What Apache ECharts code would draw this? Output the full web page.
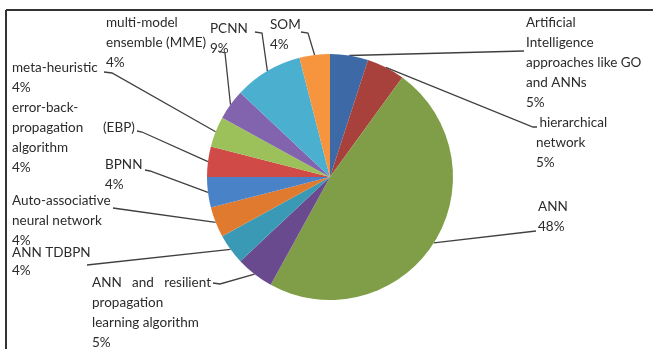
<!DOCTYPE html>
<html>
<head>
<meta charset="utf-8">
<script src="https://cdn.jsdelivr.net/npm/echarts@6/dist/echarts.min.js"></script>
<style>
html, body { margin: 0; padding: 0; background: #fff; }
#pieChart { width: 653px; height: 349px; }
</style>
</head>
<body>
<div id="pieChart"></div>
<script>
// 数据
var categories = [
    'Artificial\nIntelligence\napproaches like GO\nand ANNs',
    ' hierarchical\nnetwork',
    'ANN',
    'ANN   and   resilient\npropagation\nlearning algorithm',
    'ANN TDBPN',
    'Auto-associative\nneural network',
    'BPNN',
    'error-back-\npropagation (EBP)\nalgorithm',
    'meta-heuristic',
    'multi-model\nensemble (MME)',
    'PCNN',
    'SOM'
];
var shares = [5, 5, 48, 5, 4, 4, 4, 4, 4, 4, 9, 4];

// 样式
var sliceColors = ['#3d6aa6', '#a8403c', '#7f9e47', '#6a4a8f', '#3a9ab5', '#e07a2e',
                   '#4a82c8', '#d04a48', '#9dc15a', '#8263ae', '#4bb0d0', '#f7953f'];

// 标签位置 (左上角) 和 引导线拐点
var labelSpots = [
    [526, 13], [536, 113], [538, 197], [92, 273], [12, 244], [12, 191],
    [105, 155], [12, 98], [12, 58], [106, 13], [210, 19], [270, 15]
];
var leaderBends = [
    [[524, 51]],
    [[533, 127], [537, 127]],
    [[536, 231]],
    [[220, 284], [213, 283]],
    [[87, 265]],
    [[120, 209], [113, 208]],
    [[150, 171], [145, 170]],
    [[142, 132], [137, 131]],
    [[112, 73], [104, 72]],
    [[225, 53], [218, 51]],
    [[262, 33], [255, 32]],
    [[308, 33], [301, 32]]
];

var pieData = categories.map(function (name, i) {
    var item = { name: name, value: shares[i], itemStyle: { color: sliceColors[i] } };
    if (name === 'ANN TDBPN') {
        item.label = { lineHeight: 18 };
    }
    return item;
});

var pieChart = echarts.init(document.getElementById('pieChart'));
var option = {
    animation: false,
    graphic: [
        { type: 'line', shape: { x1: 6, y1: 10, x2: 653, y2: 10 }, style: { stroke: '#333', lineWidth: 2 } },
        { type: 'line', shape: { x1: 6, y1: 10, x2: 6, y2: 349 }, style: { stroke: '#333', lineWidth: 2 } }
    ],
    series: [
        {
            type: 'pie',
            center: [330, 177],
            radius: 123,
            startAngle: 90,
            clockwise: true,
            avoidLabelOverlap: false,
            itemStyle: { borderWidth: 0 },
            label: {
                show: true,
                position: 'outside',
                color: '#2b2b2b',
                fontFamily: 'Lato',
                fontSize: 13.5,
                lineHeight: 20,
                formatter: function (p) {
                    var txt = p.name;
                    if (txt.indexOf('(EBP)') >= 0) {
                        txt = txt.replace('propagation (EBP)', '{p|propagation}(EBP)');
                    }
                    return txt + '\n' + p.value + '%';
                },
                rich: {
                    p: { width: 91, color: '#2b2b2b', fontFamily: 'Lato', fontSize: 13.5, lineHeight: 20 }
                }
            },
            labelLine: {
                show: true,
                length: 10,
                length2: 10,
                smooth: false,
                lineStyle: { color: '#404040', width: 1.3 }
            },
            labelLayout: function (params) {
                var i = params.dataIndex;
                var pts = params.labelLinePoints;
                var start = pts && pts.length ? pts[0] : null;
                var line = start ? [start].concat(leaderBends[i]) : undefined;
                return {
                    x: labelSpots[i][0],
                    y: labelSpots[i][1],
                    align: 'left',
                    verticalAlign: 'top',
                    labelLinePoints: line
                };
            },
            data: pieData
        }
    ]
};
pieChart.setOption(option);
</script>
</body>
</html>
